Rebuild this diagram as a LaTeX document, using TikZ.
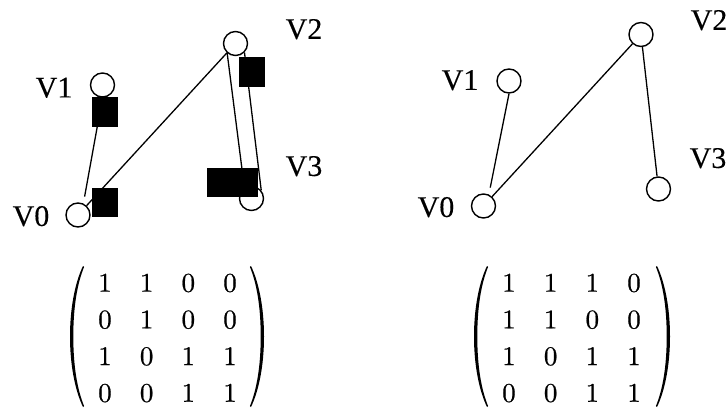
\documentclass[tikz,border=0pt]{standalone}
\usepackage{fontspec}
\setmainfont{Liberation Serif}
\newfontfamily\labelfont[FakeBold=0.3]{Liberation Serif}
\newfontfamily\digitfont[Extension=.otf, FakeBold=0.6]{lmroman10-regular}
\usetikzlibrary{matrix}
\tikzset{
  vertex/.style={circle, draw, line width=1.4pt, minimum size=24pt, inner sep=0pt},
  vlabel/.style={font=\labelfont\fontsize{30}{30}\selectfont, inner sep=0pt, text height=19.9pt, text depth=0pt},
  edge/.style={line width=1.3pt},
  blot/.style={fill=black, draw=none, inner sep=0pt},
  entry/.style={font=\digitfont\fontsize{27}{27}\selectfont, inner sep=0pt, text height=17.5pt, text depth=0pt, minimum width=20pt, anchor=center},
  adjmatrix/.style={matrix of nodes, nodes=entry, column sep=21.7pt, row sep=19.2pt, inner sep=0pt},
  % a tall round bracket, drawn as a filled crescent centred on the origin
  bigparen/.pic={
    \fill (6.5,-70.5) .. controls (-1,-55) and (-6.5,-30) .. (-6.5,0)
          .. controls (-6.5,30) and (-1,55) .. (6.5,70.5)
          -- (7.6,69.6) .. controls (0.8,53) and (-3.2,30) .. (-3.2,0)
          .. controls (-3.2,-30) and (0.8,-53) .. (7.6,-69.6) -- cycle;
  },
}

\begin{document}
\begin{tikzpicture}[x=1pt,y=-1pt]
\useasboundingbox (0,0) rectangle (728,409);

% ---- left graph (directed, heads masked) ----
\node[vertex] (a0) at (78,215) {};
\node[vertex] (a1) at (102.5,85) {};
\node[vertex] (a2) at (235.5,43.5) {};
\node[vertex] (a3) at (251.5,198.5) {};
\node[vlabel] (la0) at (31,216) {V0};
\node[vlabel] (la1) at (54,87.5) {V1};
\node[vlabel] (la2) at (304,29) {V2};
\node[vlabel] (la3) at (304,166) {V3};
\draw[edge, shorten >=7pt] (a1.south) -- (a0.65);
\draw[edge] (a2) -- (a0);
\draw[edge] (a2.229) -- (a3.124);
\draw[edge] (a2.-45) -- (a3.40);
\node[blot, minimum width=26pt, minimum height=30pt] (ka) at (105,112) {};
\node[blot, minimum width=26pt, minimum height=29pt] (kb) at (105,202.5) {};
\node[blot, minimum width=26pt, minimum height=30pt] (kc) at (252,72) {};
\node[blot, minimum width=51pt, minimum height=29pt] (kd) at (232.5,182.5) {};

% ---- right graph ----
\node[vertex] (b0) at (483.5,206) {};
\node[vertex] (b1) at (509,81) {};
\node[vertex] (b2) at (641,34.5) {};
\node[vertex] (b3) at (658.5,189) {};
\node[vlabel] (lb0) at (436,207) {V0};
\node[vlabel] (lb1) at (460,80) {V1};
\node[vlabel] (lb2) at (709,20) {V2};
\node[vlabel] (lb3) at (708,158) {V3};
\draw[edge, shorten >=7pt] (b1.south) -- (b0.65);
\draw[edge] (b0) -- (b2);
\draw[edge] (b2) -- (b3);

% ---- adjacency matrices ----
\matrix (mA) [adjmatrix] at (167.5,338) {
  1 & 1 & 0 & 0 \\
  0 & 1 & 0 & 0 \\
  1 & 0 & 1 & 1 \\
  0 & 0 & 1 & 1 \\
};
\pic (mAl) at (76.5,336.5) {bigparen};
\pic[xscale=-1] (mAr) at (257.5,336.5) {bigparen};

\matrix (mB) [adjmatrix] at (571.5,338) {
  1 & 1 & 1 & 0 \\
  1 & 1 & 0 & 0 \\
  1 & 0 & 1 & 1 \\
  0 & 0 & 1 & 1 \\
};
\pic (mBl) at (480.5,336.5) {bigparen};
\pic[xscale=-1] (mBr) at (663.5,336.5) {bigparen};
\end{tikzpicture}
\end{document}
